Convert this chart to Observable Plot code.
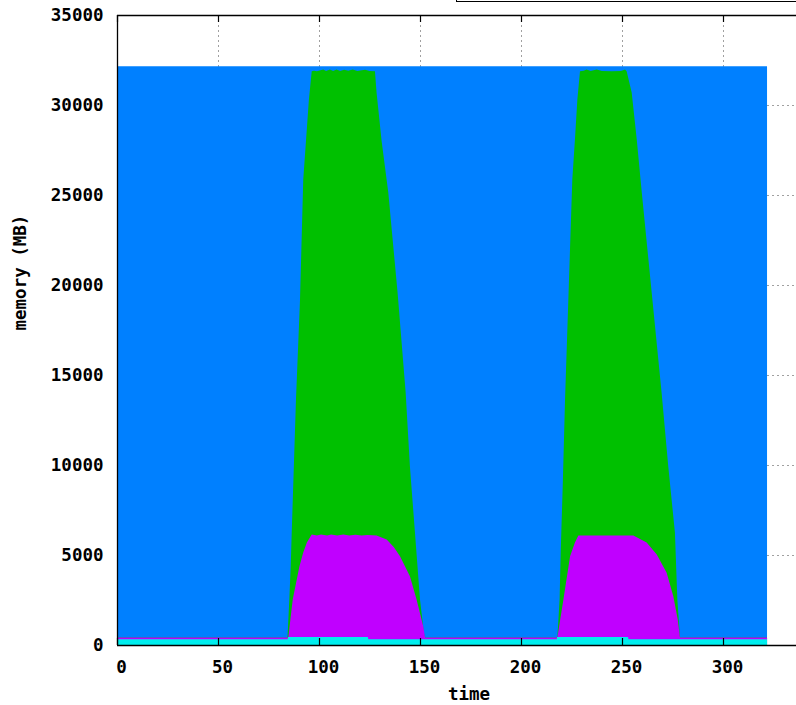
<!DOCTYPE html>
<html>
<head>
<meta charset="utf-8">
<script src="https://cdn.jsdelivr.net/npm/d3@7"></script>
<script src="https://cdn.jsdelivr.net/npm/@observablehq/plot@0.6"></script>
<style>
  html, body { margin: 0; padding: 0; background: #fff; overflow: hidden; }
  #wrap { position: relative; width: 796px; height: 705px; }
  #legendbox { position: absolute; left: 456px; top: -30px; width: 400px; height: 30px; border: 1px solid #000; background: #fff; }
</style>
</head>
<body>
<div id="wrap"><div id="legendbox"></div></div>
<script>
// ---- tick values ----
const xTicks = [0, 50, 100, 150, 200, 250, 300];
const yTicks = [0, 5000, 10000, 15000, 20000, 25000, 30000, 35000];

// ---- blue series (total) ----
const totalTime = [0, 321.8];
const totalMem  = [32150, 32150];

// ---- green series ----
const greenTime = [0, 84.4, 85.3, 86.0, 86.5, 88.6, 90.6, 92.2, 93.6, 95.0, 96.4,
  97.5, 99.0, 102.1, 103.5, 105.4, 107.0, 108.7, 110.5, 112.4, 114.5, 116.7, 119.0, 122.8, 125.0, 127.7,
  128.5, 131.0, 134.3, 138.9, 142.9, 145.0, 147.5, 150.0, 151.9, 152.5,
  218.0, 219.1, 219.7, 220.7, 221.8, 225.4, 226.7, 227.9, 229.2,
  231.0, 232.5, 234.5, 237.5, 240.0, 245.0, 249.5, 251.5, 252.3,
  254.8, 257.3, 259.8, 264.7, 269.6, 272.9, 276.2, 277.4, 278.7, 321.8];
const greenMem = [420, 420, 2530, 4360, 6250, 13640, 19190, 25860, 28080, 30300, 31880,
  31900, 31870, 31970, 31890, 31970, 31890, 31970, 31890, 31960, 31900, 31970, 31890, 31960, 31890, 31880,
  30700, 28000, 25140, 19580, 14030, 9930, 6250, 2530, 690, 420,
  420, 2530, 5300, 9020, 13640, 25860, 28080, 30300, 31880,
  31900, 31970, 31890, 31970, 31890, 31880, 31890, 31970, 31880,
  30700, 28080, 25140, 19580, 14030, 9930, 6250, 2530, 420, 420];

// ---- purple series ----
const purpleTime = [0, 84.4, 84.8, 87.0, 90.3, 92.2, 94.0, 96.4,
  99.0, 101.0, 104.0, 106.0, 109.0, 112.0, 115.0, 118.0, 121.0, 124.0, 128.5,
  133.5, 137.0, 140.1, 145.0, 148.3, 151.6, 152.5,
  218.0, 221.0, 224.3, 226.7, 228.4, 255.6,
  262.2, 267.2, 272.1, 275.4, 277.6, 278.7, 321.8];
const purpleMem = [410, 410, 420, 2530, 4360, 5140, 5700, 6140,
  6080, 6140, 6090, 6140, 6080, 6140, 6090, 6130, 6080, 6110, 6080,
  5860, 5450, 4930, 3820, 2530, 1040, 410,
  410, 2530, 4930, 5690, 6080, 6080,
  5690, 5030, 4010, 2710, 1420, 410, 410];

// ---- cyan series ----
const cyanTime = [0, 84.5, 84.7, 124.2, 124.4, 217.7, 217.9, 253.0, 253.2, 321.8];
const cyanMem  = [320, 320, 450, 450, 320, 320, 450, 450, 320, 320];

const toRows = (t, v) => t.map((d, i) => ({time: d, mem: v[i]}));
const total  = toRows(totalTime, totalMem);
const green  = toRows(greenTime, greenMem);
const purple = toRows(purpleTime, purpleMem);
const cyan   = toRows(cyanTime, cyanMem);

const gridStyle = {stroke: "#a0a0a0", strokeOpacity: 1, strokeWidth: 1, strokeDasharray: "2,3"};
const font = "DejaVu Sans Mono, monospace";

const chart = Plot.plot({
  width: 796,
  height: 705,
  marginLeft: 117,
  marginTop: 15,
  marginBottom: 60,
  marginRight: 0,
  style: {fontFamily: font, fontWeight: "bold", fontSize: "17.5px", background: "white", color: "#000", overflow: "visible"},
  x: {domain: [0, 350], range: [117, 824]},
  y: {domain: [0, 35000]},
  marks: [
    Plot.gridX(xTicks, gridStyle),
    Plot.gridY(yTicks, gridStyle),
    Plot.areaY(total,  {x: "time", y1: 0, y2: "mem", fill: "#0080ff", curve: "linear"}),
    Plot.areaY(green,  {x: "time", y1: 0, y2: "mem", fill: "#00c000", curve: "linear"}),
    Plot.areaY(purple, {x: "time", y1: 0, y2: "mem", fill: "#c000ff", curve: "linear"}),
    Plot.areaY(cyan,   {x: "time", y1: 0, y2: "mem", fill: "#00eeee", curve: "linear"}),
    // inward tick marks on top and bottom borders
    Plot.tickX(xTicks, {x: d => d, insetBottom: 623, stroke: "#000", strokeWidth: 1.2}),
    Plot.tickX(xTicks, {x: d => d, insetTop: 623, stroke: "#000", strokeWidth: 1.2}),
    // border
    Plot.ruleY([35000], {stroke: "#000", strokeWidth: 1.3}),
    Plot.ruleY([0], {stroke: "#000", strokeWidth: 1.3}),
    Plot.ruleX([0], {stroke: "#000", strokeWidth: 1.3}),
    // axes
    Plot.axisY({ticks: yTicks, tickSize: 0, tickPadding: 14, label: null, tickFormat: d => String(d), fontWeight: "bold"}),
    Plot.axisX({ticks: xTicks, tickSize: 0, tickPadding: 15, label: null, tickFormat: d => String(d), dx: 4, fontWeight: "bold"}),
    Plot.text(["time"], {frameAnchor: "bottom", dx: 12, dy: 54, fontWeight: "bold", fontSize: 17.5}),
    Plot.text(["memory (MB)"], {frameAnchor: "left", rotate: -90, dx: -97, fontWeight: "bold", fontSize: 17.5})
  ]
});
document.getElementById("wrap").appendChild(chart);
chart.style.position = "absolute";
chart.style.left = "0px";
chart.style.top = "0px";
document.getElementById("wrap").appendChild(document.getElementById("legendbox"));
</script>
</body>
</html>
